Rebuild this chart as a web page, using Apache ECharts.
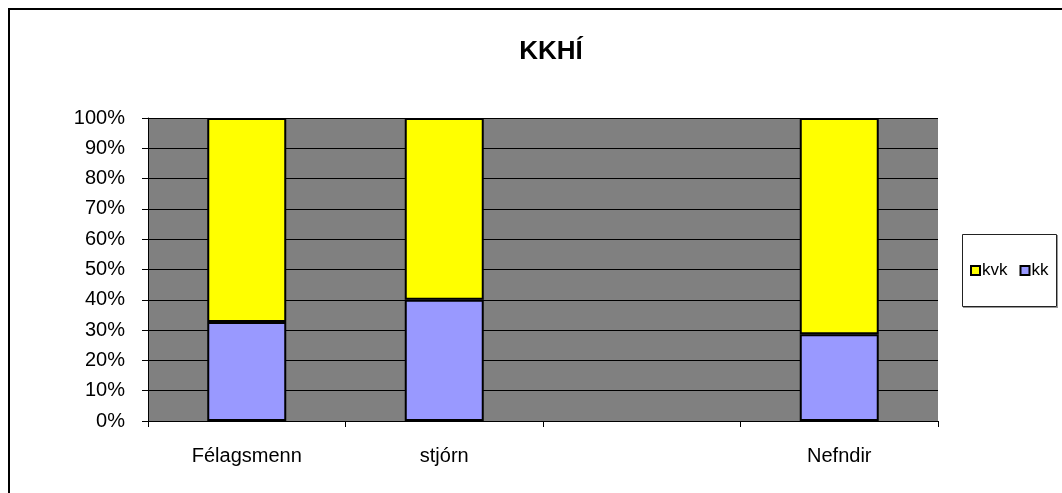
<!DOCTYPE html>
<html><head><meta charset="utf-8">
<script src="https://cdn.jsdelivr.net/npm/echarts@6/dist/echarts.min.js"></script>
<style>html,body{margin:0;padding:0;background:#fff}#c{width:1062px;height:493px}</style>
</head><body><div id="c"></div>
<script>
const categories = ['Félagsmenn', 'stjórn', '', 'Nefndir'];
const kk = [32.7, 40.0, null, 28.6];
const kvk = [67.3, 60.0, null, 71.4];
const yTicks = [0, 10, 20, 30, 40, 50, 60, 70, 80, 90, 100];

const chart = echarts.init(document.getElementById('c'), null, {renderer: 'canvas'});
const font = 'Liberation Sans, Arial, sans-serif';
chart.setOption({
  animation: false,
  backgroundColor: '#fff',
  title: {text: 'KKHÍ', left: 546, top: 34, textAlign: 'center',
    textStyle: {fontFamily: font, fontSize: 26, fontWeight: 'bold', color: '#000'}},
  graphic: [
    {type: 'rect', shape: {x: 9, y: 9, width: 1070, height: 500}, style: {fill: 'none', stroke: '#000', lineWidth: 2}, z: 100},
    {type: 'rect', shape: {x: 962.5, y: 234.5, width: 94, height: 72}, style: {fill: '#fff', stroke: '#222', lineWidth: 1}, z: 0},
    {type: 'line', shape: {x1: 963, y1: 307.5, x2: 1058, y2: 307.5}, style: {stroke: '#999', lineWidth: 1}},
    {type: 'line', shape: {x1: 1057.5, y1: 235, x2: 1057.5, y2: 308}, style: {stroke: '#999', lineWidth: 1}}
  ],
  legend: {left: 970, top: 262, itemWidth: 9, itemHeight: 9, itemGap: 12, padding: 0,
    icon: 'rect',
    textStyle: {fontFamily: font, fontSize: 17, color: '#000', padding: [0,0,0,-3]},
    data: [{name: 'kvk', itemStyle: {borderColor: '#000', borderWidth: 2}}, {name: 'kk', itemStyle: {borderColor: '#000', borderWidth: 2}}]},
  grid: {left: 148, right: 124, top: 118, bottom: 72, show: true, backgroundColor: '#808080', borderWidth: 0},
  xAxis: {type: 'category', data: categories,
    axisLine: {lineStyle: {color: '#000', width: 1}},
    axisTick: {show: true, length: 6, lineStyle: {color: '#000'}},
    axisLabel: {fontFamily: font, fontSize: 20, color: '#000', margin: 25}},
  yAxis: {type: 'value', min: 0, max: 100, interval: 10,
    axisLine: {show: true, lineStyle: {color: '#000', width: 1}},
    axisTick: {show: true, length: 6, lineStyle: {color: '#000'}},
    splitLine: {lineStyle: {color: '#000', width: 1}},
    axisLabel: {fontFamily: font, fontSize: 20, color: '#000', margin: 23,
      formatter: v => yTicks.includes(v) ? v + '%' : ''}},
  series: [
    {name: 'kk', type: 'bar', stack: 's', data: kk, barWidth: 79,
      itemStyle: {color: '#9999ff', borderColor: '#000', borderWidth: 2}},
    {name: 'kvk', type: 'bar', stack: 's', data: kvk, barWidth: 79,
      itemStyle: {color: '#ffff00', borderColor: '#000', borderWidth: 2}}
  ]
});
</script></body></html>
